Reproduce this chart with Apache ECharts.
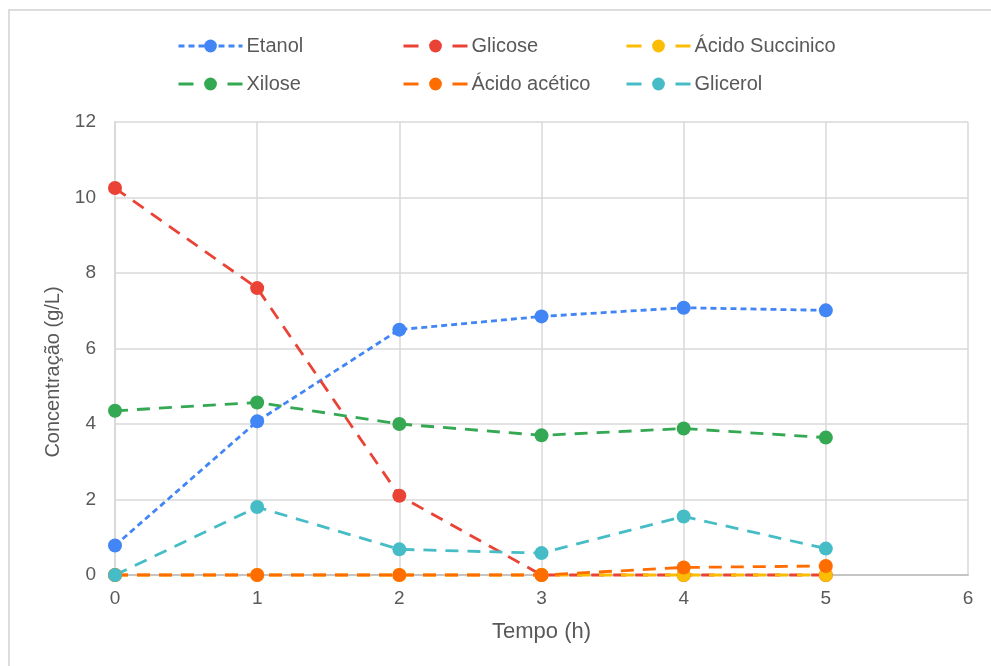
<!DOCTYPE html>
<html>
<head>
<meta charset="utf-8">
<script src="https://cdn.jsdelivr.net/npm/echarts@6/dist/echarts.min.js"></script>
<style>
  html, body { margin: 0; padding: 0; background: #ffffff; }
  #chart { width: 991px; height: 666px; }
</style>
</head>
<body>
<div id="chart"></div>
<script>
// Sampling times (h)
const tempo = [0, 1, 2, 3, 4, 5];

// Concentrations (g/L) per compound
const etanol         = [0.78, 4.07, 6.50, 6.85, 7.08, 7.01];
const glicose        = [10.25, 7.60, 2.10, 0.00, 0.00, 0.00];
const acidoSuccinico = [0.00, 0.00, 0.00, 0.00, 0.00, 0.00];
const xilose         = [4.35, 4.57, 4.00, 3.70, 3.88, 3.64];
const acidoAcetico   = [0.00, 0.00, 0.00, 0.00, 0.20, 0.24];
const glicerol       = [0.00, 1.80, 0.68, 0.58, 1.55, 0.70];

const yTicks = [0, 2, 4, 6, 8, 10, 12];
const xTicks = [0, 1, 2, 3, 4, 5, 6];

const seriesNames = ['Etanol', 'Glicose', 'Ácido Succinico', 'Xilose', 'Ácido acético', 'Glicerol'];
const seriesData = [etanol, glicose, acidoSuccinico, xilose, acidoAcetico, glicerol];
const seriesColors = ['#4285F4', '#EA4335', '#FBBC04', '#34A853', '#FF6D01', '#46BDC6'];

// Etanol uses a fine dash, the others a long dash
const shortDash = [6, 4];
const longDash = [13, 9];
const legendLongDash = [15, 34];

const textColor = '#595959';
const gridColor = '#d9d9d9';
const fontFamily = '"Liberation Sans", Arial, sans-serif';

// Legend laid out as a 3 x 2 block, one legend component per entry
const legendCols = [177, 402, 625];
const legendRows = [36, 74];
const legends = seriesNames.map((name, i) => ({
  data: [name],
  left: legendCols[i % 3],
  top: legendRows[Math.floor(i / 3)],
  orient: 'horizontal',
  padding: 0,
  itemWidth: 64,
  itemHeight: 16,
  itemGap: 0,
  selectedMode: false,
  lineStyle: { width: 3, type: i === 0 ? shortDash : legendLongDash },
  textStyle: { color: textColor, fontSize: 20, fontFamily: fontFamily, padding: [0, 0, 0, -1] }
}));

const chart = echarts.init(document.getElementById('chart'));

chart.setOption({
  animation: false,
  backgroundColor: '#ffffff',
  textStyle: { fontFamily: fontFamily },
  graphic: [{
    type: 'rect',
    shape: { x: 9, y: 10, width: 1000, height: 700 },
    style: { fill: 'none', stroke: '#dddddd', lineWidth: 2 },
    silent: true
  }],
  legend: legends,
  grid: { left: 115, right: 23, top: 122, bottom: 91, containLabel: false },
  xAxis: {
    type: 'value',
    min: xTicks[0],
    max: xTicks[xTicks.length - 1],
    interval: 1,
    name: 'Tempo (h)',
    nameLocation: 'middle',
    nameGap: 46,
    nameTextStyle: { color: textColor, fontSize: 22, fontFamily: fontFamily },
    axisLine: { show: true, lineStyle: { color: '#c4c4c4', width: 2 } },
    axisTick: { show: false },
    axisLabel: { color: textColor, fontSize: 19, margin: 14, fontFamily: fontFamily },
    splitLine: { show: true, lineStyle: { color: gridColor, width: 1.5 } }
  },
  yAxis: {
    type: 'value',
    min: yTicks[0],
    max: yTicks[yTicks.length - 1],
    interval: 2,
    name: 'Concentração (g/L)',
    nameLocation: 'middle',
    nameGap: 50,
    nameTextStyle: { color: textColor, fontSize: 20, fontFamily: fontFamily, padding: [0, 47, 0, 0] },
    axisLine: { show: true, lineStyle: { color: gridColor, width: 2 } },
    axisTick: { show: false },
    axisLabel: { color: textColor, fontSize: 19, margin: 19, fontFamily: fontFamily },
    splitLine: { show: true, lineStyle: { color: gridColor, width: 1.5 } }
  },
  series: seriesNames.map((name, i) => ({
    name: name,
    type: 'line',
    data: tempo.map((t, k) => [t, seriesData[i][k]]),
    symbol: 'circle',
    symbolSize: 14,
    itemStyle: { color: seriesColors[i] },
    lineStyle: { color: seriesColors[i], width: 2.8, type: i === 0 ? shortDash : longDash },
    clip: false
  }))
});
</script>
</body>
</html>
